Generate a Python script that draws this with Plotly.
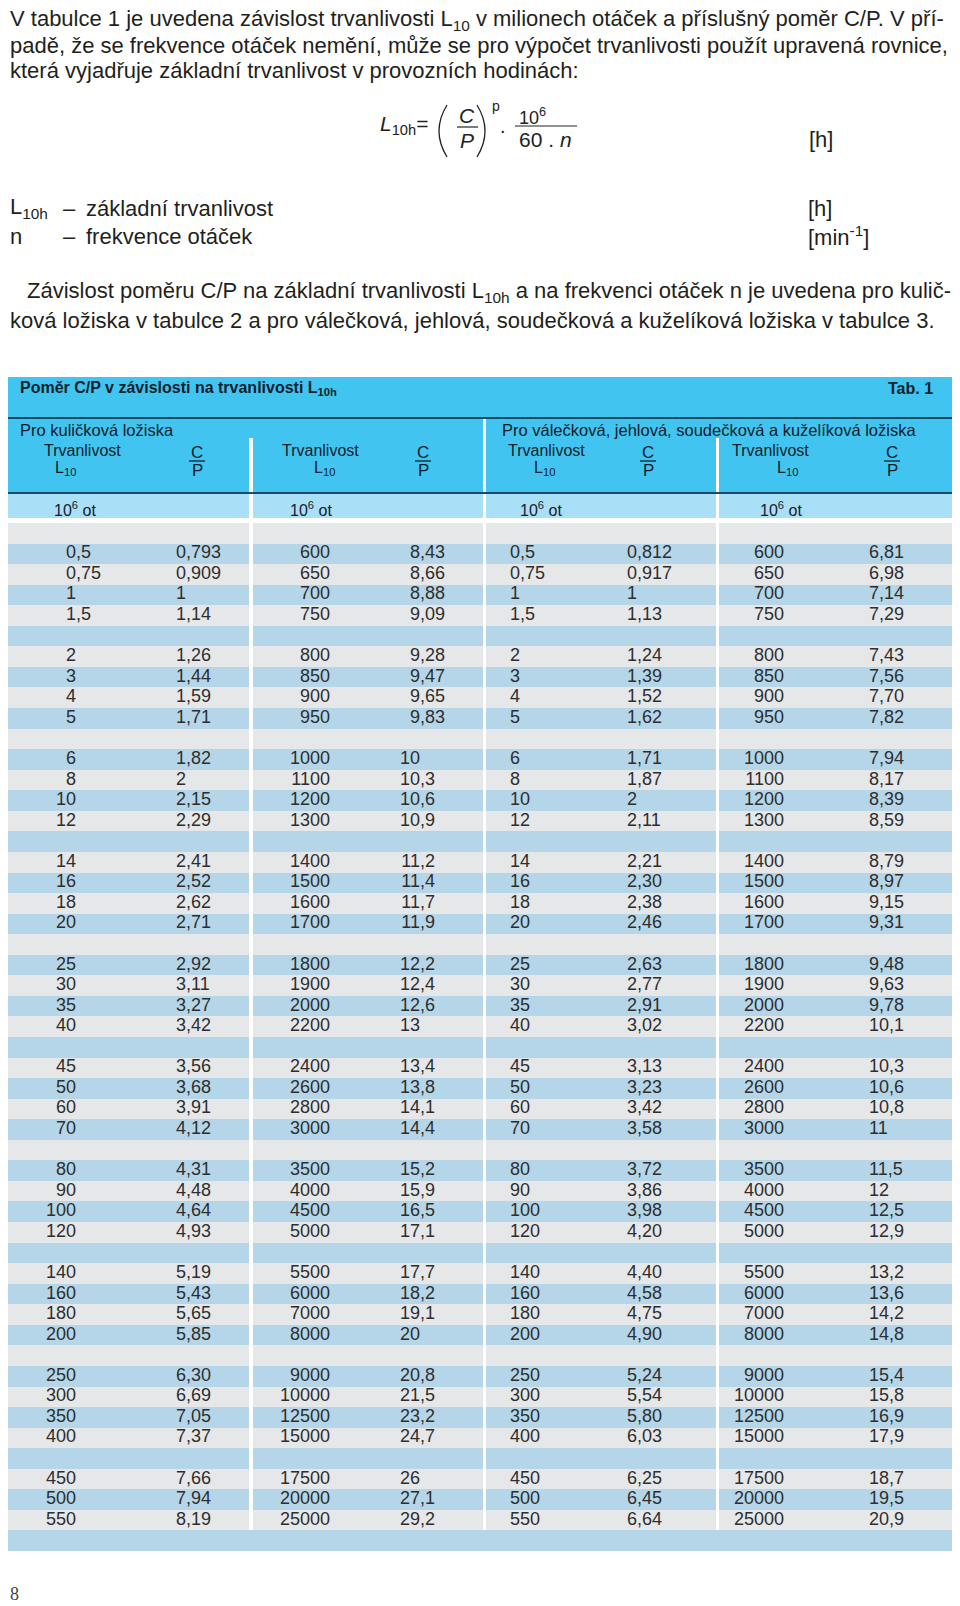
import plotly.graph_objects as go

# reference page size; the browser puts the figure 8px in from the top-left corner
W, H = 960, 1606
OFF = 8

# Tab. 1 - values as printed (Czech decimal comma)
l10_low = ["0,5", "0,75", "1", "1,5", "2", "3", "4", "5", "6", "8", "10", "12",
           "14", "16", "18", "20", "25", "30", "35", "40", "45", "50", "60", "70",
           "80", "90", "100", "120", "140", "160", "180", "200", "250", "300", "350", "400",
           "450", "500", "550"]
l10_high = ["600", "650", "700", "750", "800", "850", "900", "950", "1000", "1100", "1200", "1300",
            "1400", "1500", "1600", "1700", "1800", "1900", "2000", "2200", "2400", "2600", "2800", "3000",
            "3500", "4000", "4500", "5000", "5500", "6000", "7000", "8000", "9000", "10000", "12500", "15000",
            "17500", "20000", "25000"]
cp_ball_low = ["0,793", "0,909", "1", "1,14", "1,26", "1,44", "1,59", "1,71", "1,82", "2", "2,15", "2,29",
               "2,41", "2,52", "2,62", "2,71", "2,92", "3,11", "3,27", "3,42", "3,56", "3,68", "3,91", "4,12",
               "4,31", "4,48", "4,64", "4,93", "5,19", "5,43", "5,65", "5,85", "6,30", "6,69", "7,05", "7,37",
               "7,66", "7,94", "8,19"]
cp_ball_high = ["8,43", "8,66", "8,88", "9,09", "9,28", "9,47", "9,65", "9,83", "10", "10,3", "10,6", "10,9",
                "11,2", "11,4", "11,7", "11,9", "12,2", "12,4", "12,6", "13", "13,4", "13,8", "14,1", "14,4",
                "15,2", "15,9", "16,5", "17,1", "17,7", "18,2", "19,1", "20", "20,8", "21,5", "23,2", "24,7",
                "26", "27,1", "29,2"]
cp_roller_low = ["0,812", "0,917", "1", "1,13", "1,24", "1,39", "1,52", "1,62", "1,71", "1,87", "2", "2,11",
                 "2,21", "2,30", "2,38", "2,46", "2,63", "2,77", "2,91", "3,02", "3,13", "3,23", "3,42", "3,58",
                 "3,72", "3,86", "3,98", "4,20", "4,40", "4,58", "4,75", "4,90", "5,24", "5,54", "5,80", "6,03",
                 "6,25", "6,45", "6,64"]
cp_roller_high = ["6,81", "6,98", "7,14", "7,29", "7,43", "7,56", "7,70", "7,82", "7,94", "8,17", "8,39", "8,59",
                  "8,79", "8,97", "9,15", "9,31", "9,48", "9,63", "9,78", "10,1", "10,3", "10,6", "10,8", "11",
                  "11,5", "12", "12,5", "12,9", "13,2", "13,6", "14,2", "14,8", "15,4", "15,8", "16,9", "17,9",
                  "18,7", "19,5", "20,9"]

CYAN = "#41c4f0"
LIGHT = "#a9dff7"
GREY = "#e6e7e9"
BLUE = "#b5d6e9"
DARK = "#1d4a5f"
HEAD_TXT = "#12212c"
BODY_TXT = "#2e2e2e"
PARA_TXT = "#231f20"
SANS = "Liberation Sans, Arial, sans-serif"

# table body geometry (page pixels)
TABLE_TOP, TABLE_BOTTOM = 523, 1551
N_ROWS = 50
col_edges = [3, 249, 253, 483, 486, 716, 719, 952]


def row_of(k):
    # 4 values per block, one empty striped row between blocks
    return 1 + k + k // 4


# striped background: 0 grey, 1 blue, 2 white separator
z = []
for r in range(N_ROWS):
    row = []
    for c in range(len(col_edges) - 1):
        if c % 2 == 1 and r < N_ROWS - 1:
            row.append(2)
        else:
            row.append(r % 2)
    z.append(row)

fig = go.Figure()
fig.add_trace(go.Heatmap(
    x=col_edges, y=list(range(N_ROWS)), z=z, zmin=0, zmax=2,
    colorscale=[[0, GREY], [0.33, GREY], [0.33, BLUE], [0.67, BLUE], [0.67, "white"], [1, "white"]],
    showscale=False, hoverinfo="skip", xaxis="x", yaxis="y2",
))

body_font = dict(family=SANS, size=18, color=BODY_TXT)


def add_text(x, rows, texts, pos):
    fig.add_trace(go.Scatter(
        x=[x] * len(rows), y=rows, text=texts, mode="text", textposition=pos,
        textfont=body_font, hoverinfo="skip", showlegend=False,
        xaxis="x", yaxis="y2", cliponaxis=False,
    ))


def add_column(values, x, align):
    rows = [row_of(k) for k in range(len(values))]
    if align == "left":
        add_text(x, rows, values, "middle right")
    elif align == "right":
        add_text(x, rows, values, "middle left")
    else:  # decimal comma alignment
        add_text(x, rows, [v.split(",")[0] for v in values], "middle left")
        frac_rows = [r for r, v in zip(rows, values) if "," in v]
        fracs = ["," + v.split(",")[1] for v in values if "," in v]
        add_text(x, frac_rows, fracs, "middle right")


add_column(l10_low, 76, "dec")
add_column(cp_ball_low, 186, "dec")
add_column(l10_high, 330, "right")
add_column(cp_ball_high, 420, "dec")
add_column(l10_low, 510, "left")
add_column(cp_roller_low, 637, "dec")
add_column(l10_high, 784, "right")
add_column(cp_roller_high, 869, "left")

annotations = []


def txt(x, y, s, size=22, anchor="left", family=SANS, color=PARA_TXT):
    annotations.append(dict(
        x=x, y=y, xref="x", yref="y", text=s, showarrow=False,
        xanchor=anchor, yanchor="middle", align=anchor,
        font=dict(family=family, size=size, color=color),
    ))


LEFT = OFF  # leftmost text column of the page

# paragraph 1 (first line kept clear of the top edge)
txt(LEFT, 20, "V tabulce 1 je uvedena závislost trvanlivosti L<sub>10</sub> v milionech otáček a příslušný poměr C/P. V pří-")
txt(LEFT, 45, "padě, že se frekvence otáček nemění, může se pro výpočet trvanlivosti použít upravená rovnice,")
txt(LEFT, 70, "která vyjadřuje základní trvanlivost v provozních hodinách:")

# formula
txt(378, 125, "<i>L</i><sub>10h</sub>=", size=21, color="#222")
txt(467, 115, "<i>C</i>", size=21, anchor="center", color="#222")
txt(467, 140, "<i>P</i>", size=21, anchor="center", color="#222")
txt(490, 106, "p", size=14, color="#222")
txt(503, 126, ".", size=20, anchor="center", color="#222")
txt(517, 116, "10<sup>6</sup>", size=18, color="#222")
txt(517, 139, "60 . <i>n</i>", size=21, color="#222")
txt(807, 139, "[h]")

# symbols
txt(LEFT, 208, "L<sub>10h</sub>")
txt(61, 208, "–")
txt(84, 208, "základní trvanlivost")
txt(806, 208, "[h]")
txt(LEFT, 236, "n")
txt(61, 236, "–")
txt(84, 236, "frekvence otáček")
txt(806, 236, "[min<sup>-1</sup>]")

# paragraph 2
txt(25, 292, "Závislost poměru C/P na základní trvanlivosti L<sub>10h</sub> a na frekvenci otáček n je uvedena pro kulič-")
txt(LEFT, 320, "ková ložiska v tabulce 2 a pro válečková, jehlová, soudečková a kuželíková ložiska v tabulce 3.")

# table header texts
txt(18, 388, "<b>Poměr C/P v závislosti na trvanlivosti L<sub>10h</sub></b>", size=16, color=HEAD_TXT)
txt(935, 388, "<b>Tab. 1</b>", size=16, anchor="right", color=HEAD_TXT)
txt(18, 430, "Pro kuličková ložiska", size=16.5, color=HEAD_TXT)
txt(500, 430, "Pro válečková, jehlová, soudečková a kuželíková ložiska", size=16.5, color=HEAD_TXT)
for tx, lx, cx, ox in [(42, 53, 197, 52), (280, 312, 423, 288), (506, 532, 648, 518), (730, 775, 892, 758)]:
    txt(tx, 450, "Trvanlivost", size=16, color=HEAD_TXT)
    txt(lx, 468, "L<sub>10</sub>", size=16, color=HEAD_TXT)
    txt(cx, 452, "C", size=17, anchor="center", color=HEAD_TXT)
    txt(cx, 470, "P", size=17, anchor="center", color=HEAD_TXT)
    txt(ox, 509, "10<sup>6</sup> ot", size=16, color=HEAD_TXT)

# page number
txt(LEFT, 1594, "8", size=18, family="Liberation Serif, serif", color="#444")

shapes = []


def rect(x0, y0, x1, y1, color):
    shapes.append(dict(type="rect", xref="x", yref="y", x0=x0, y0=y0, x1=x1, y1=y1,
                       fillcolor=color, line=dict(width=0), layer="below"))


def hline(x0, x1, y, color, width):
    shapes.append(dict(type="line", xref="x", yref="y", x0=x0, y0=y, x1=x1, y1=y,
                       line=dict(color=color, width=width)))


rect(3, 377, 952, 493, CYAN)
rect(3, 493, 952, 518, LIGHT)
hline(3, 952, 418, DARK, 2)
hline(3, 952, 493, DARK, 2)
rect(249, 438, 253, 518, "white")
rect(483, 419, 486, 518, "white")
rect(716, 438, 719, 518, "white")
for cx in [197, 423, 648, 892]:
    hline(cx - 8, cx + 8, 461, HEAD_TXT, 1.3)

# formula bars and parentheses
hline(457, 478, 127, "#222", 1.2)
hline(515, 577, 126, "#222", 1.2)
shapes.append(dict(type="path", xref="x", yref="y", path="M 447,105 Q 431,131 447,157",
                   line=dict(color="#222", width=1.3)))
shapes.append(dict(type="path", xref="x", yref="y", path="M 477,105 Q 493,131 477,157",
                   line=dict(color="#222", width=1.3)))

fig_h = H - OFF
fig.update_layout(
    width=W - OFF, height=fig_h,
    margin=dict(l=0, r=0, t=0, b=0),
    paper_bgcolor="white", plot_bgcolor="white",
    showlegend=False,
    xaxis=dict(range=[OFF, W], domain=[0, 1], visible=False, fixedrange=True),
    yaxis=dict(range=[H, OFF], domain=[0, 1], visible=False, fixedrange=True),
    yaxis2=dict(range=[N_ROWS - 0.5, -0.5],
                domain=[1 - (TABLE_BOTTOM - OFF) / fig_h, 1 - (TABLE_TOP - OFF) / fig_h],
                anchor="x", visible=False, fixedrange=True),
    annotations=annotations,
    shapes=shapes,
)

fig.write_html("out.html")
